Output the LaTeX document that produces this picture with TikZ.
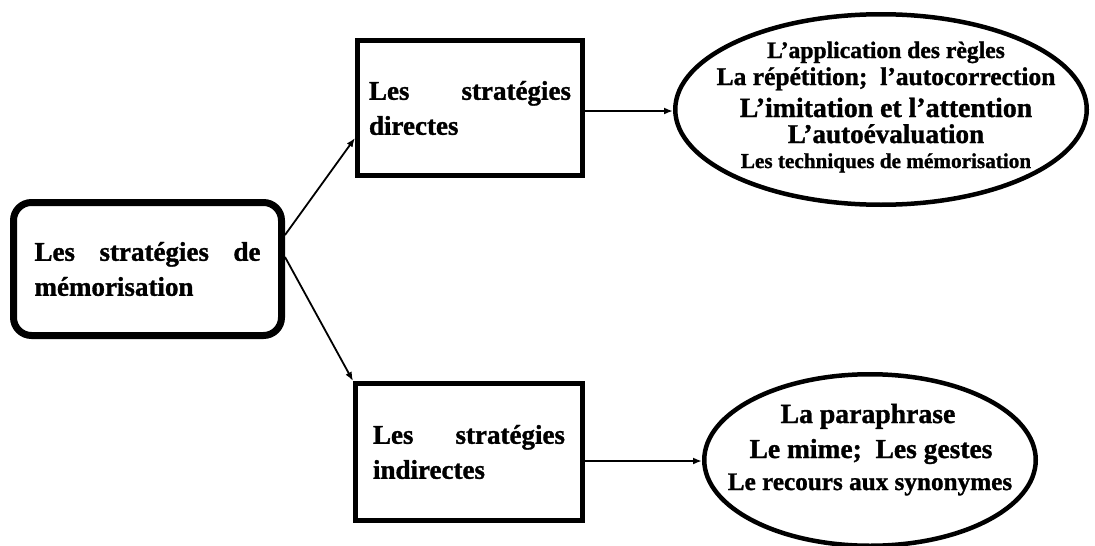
\documentclass[tikz,border=0pt]{standalone}
\usepackage{fontspec}
\setmainfont{Liberation Serif}[BoldFeatures={FakeBold=1.2}]
\usetikzlibrary{arrows.meta,shapes.geometric,calc}
\tikzset{
  boxfont/.style={font=\bfseries\fontsize{27}{35}\selectfont},
  mainbox/.style={draw,line width=7pt,rounded corners=18pt,inner sep=0pt,
    minimum width=268pt,minimum height=133pt,align=left,boxfont},
  subbox/.style={draw,line width=5pt,inner sep=0pt,align=left,boxfont},
  oval/.style={draw,ellipse,line width=4.5pt,inner sep=0pt},
  txt/.style={anchor=base,inner sep=0pt,font=\bfseries},
  conn/.style={line width=1.8pt,-{Latex[length=9pt,width=7pt]}}
}
\begin{document}
\begin{tikzpicture}[x=1pt,y=-1pt]
\useasboundingbox (0,0) rectangle (1095,546);
\clip (0,0) rectangle (1095,546);
\node[mainbox] (L) at (147.5,269)
  {\makebox[226pt][s]{Les stratégies de}\\\makebox[226pt][l]{mémorisation}};
\node[subbox,minimum width=225pt,minimum height=135pt] (D) at (470,108)
  {\makebox[202pt][s]{Les stratégies}\\\makebox[202pt][l]{directes}};
\node[subbox,minimum width=227pt,minimum height=137pt] (I) at (469,452)
  {\makebox[192pt][s]{Les stratégies}\\\makebox[192pt][l]{indirectes}\hspace{10pt}};
\node[oval,minimum width=411.5pt,minimum height=190.5pt] (E1) at (881,109.5) {};
\node[oval,minimum width=331.5pt,minimum height=171.5pt] (E2) at (870,460) {};
% texts in top ellipse
\node[txt,font=\bfseries\fontsize{23.6}{28}\selectfont] (t1) at (886,58) {L’application des règles};
\node[txt,font=\bfseries\fontsize{25.5}{28}\selectfont] (t2) at (886,85) {La répétition;\ \ l’autocorrection};
\node[txt,font=\bfseries\fontsize{27.8}{28}\selectfont] (t3) at (886,117) {L’imitation et l’attention};
\node[txt,font=\bfseries\fontsize{27.1}{28}\selectfont] (t4) at (886,143) {L’autoévaluation};
\node[txt,font=\bfseries\fontsize{21.2}{28}\selectfont] (t5) at (886,168) {Les techniques de mémorisation};
% texts in bottom ellipse
\node[txt,font=\bfseries\fontsize{27.7}{28}\selectfont] (b1) at (868,423) {La paraphrase};
\node[txt,font=\bfseries\fontsize{27.5}{28}\selectfont] (b2) at (871,458) {Le mime;\ \ Les gestes};
\node[txt,font=\bfseries\fontsize{25.2}{28}\selectfont] (b3) at (870,490) {Le recours aux synonymes};
% connectors
\draw[conn] ([yshift=34pt]L.east) -- ([yshift=-30pt]D.west);
\draw[conn] ([yshift=12pt]L.east) -- (I.north west);
\coordinate (p1) at ([yshift=-3pt]D.east);
\draw[conn] (p1) -- (p1 -| E1.west);
\coordinate (p2) at ([yshift=-9pt]I.east);
\draw[conn] (p2) -- (p2 -| E2.west);
\end{tikzpicture}
\end{document}
